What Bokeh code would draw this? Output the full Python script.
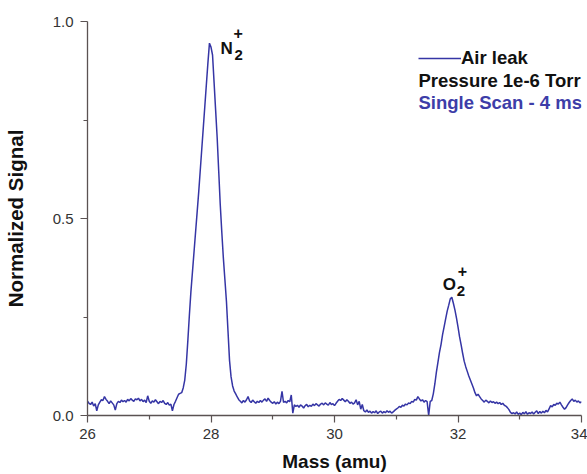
from bokeh.plotting import figure
from bokeh.models import Range1d, FixedTicker, Label, Legend, LegendItem
from bokeh.embed import file_html
from bokeh.resources import INLINE

mass = [
    26.000, 26.025, 26.050, 26.075, 26.100, 26.125, 26.150, 26.175,
    26.200, 26.225, 26.250, 26.275, 26.300, 26.325, 26.350, 26.375,
    26.400, 26.425, 26.450, 26.475, 26.500, 26.525, 26.550, 26.575,
    26.600, 26.625, 26.650, 26.675, 26.700, 26.725, 26.750, 26.775,
    26.800, 26.825, 26.850, 26.875, 26.900, 26.925, 26.950, 26.975,
    27.000, 27.025, 27.050, 27.075, 27.100, 27.125, 27.150, 27.175,
    27.200, 27.225, 27.250, 27.275, 27.300, 27.325, 27.350, 27.375,
    27.400, 27.425, 27.450, 27.475, 27.500, 27.525, 27.550, 27.575,
    27.600, 27.625, 27.650, 27.675, 27.700, 27.725, 27.750, 27.775,
    27.800, 27.825, 27.850, 27.875, 27.900, 27.925, 27.950, 27.975,
    28.000, 28.025, 28.050, 28.075, 28.100, 28.125, 28.150, 28.175,
    28.200, 28.225, 28.250, 28.275, 28.300, 28.325, 28.350, 28.375,
    28.400, 28.425, 28.450, 28.475, 28.500, 28.525, 28.550, 28.575,
    28.600, 28.625, 28.650, 28.675, 28.700, 28.725, 28.750, 28.775,
    28.800, 28.825, 28.850, 28.875, 28.900, 28.925, 28.950, 28.975,
    29.000, 29.025, 29.050, 29.075, 29.100, 29.125, 29.150, 29.175,
    29.200, 29.225, 29.250, 29.275, 29.300, 29.325, 29.350, 29.375,
    29.400, 29.425, 29.450, 29.475, 29.500, 29.525, 29.550, 29.575,
    29.600, 29.625, 29.650, 29.675, 29.700, 29.725, 29.750, 29.775,
    29.800, 29.825, 29.850, 29.875, 29.900, 29.925, 29.950, 29.975,
    30.000, 30.025, 30.050, 30.075, 30.100, 30.125, 30.150, 30.175,
    30.200, 30.225, 30.250, 30.275, 30.300, 30.325, 30.350, 30.375,
    30.400, 30.425, 30.450, 30.475, 30.500, 30.525, 30.550, 30.575,
    30.600, 30.625, 30.650, 30.675, 30.700, 30.725, 30.750, 30.775,
    30.800, 30.825, 30.850, 30.875, 30.900, 30.925, 30.950, 30.975,
    31.000, 31.025, 31.050, 31.075, 31.100, 31.125, 31.150, 31.175,
    31.200, 31.225, 31.250, 31.275, 31.300, 31.325, 31.350, 31.375,
    31.400, 31.425, 31.450, 31.475, 31.500, 31.525, 31.550, 31.575,
    31.600, 31.625, 31.650, 31.675, 31.700, 31.725, 31.750, 31.775,
    31.800, 31.825, 31.850, 31.875, 31.900, 31.925, 31.950, 31.975,
    32.000, 32.025, 32.050, 32.075, 32.100, 32.125, 32.150, 32.175,
    32.200, 32.225, 32.250, 32.275, 32.300, 32.325, 32.350, 32.375,
    32.400, 32.425, 32.450, 32.475, 32.500, 32.525, 32.550, 32.575,
    32.600, 32.625, 32.650, 32.675, 32.700, 32.725, 32.750, 32.775,
    32.800, 32.825, 32.850, 32.875, 32.900, 32.925, 32.950, 32.975,
    33.000, 33.025, 33.050, 33.075, 33.100, 33.125, 33.150, 33.175,
    33.200, 33.225, 33.250, 33.275, 33.300, 33.325, 33.350, 33.375,
    33.400, 33.425, 33.450, 33.475, 33.500, 33.525, 33.550, 33.575,
    33.600, 33.625, 33.650, 33.675, 33.700, 33.725, 33.750, 33.775,
    33.800, 33.825, 33.850, 33.875, 33.900, 33.925, 33.950, 33.975,
    34.000,
]

signal = [
    0.036, 0.031, 0.028, 0.034, 0.024, 0.030, 0.012, 0.027,
    0.034, 0.040, 0.038, 0.048, 0.041, 0.036, 0.030, 0.037,
    0.032, 0.027, 0.014, 0.030, 0.036, 0.033, 0.039, 0.035,
    0.038, 0.034, 0.041, 0.037, 0.043, 0.039, 0.036, 0.042,
    0.040, 0.044, 0.037, 0.041, 0.035, 0.039, 0.033, 0.050,
    0.036, 0.031, 0.037, 0.034, 0.040, 0.035, 0.030, 0.036,
    0.033, 0.038, 0.031, 0.028, 0.033, 0.026, 0.029, 0.012,
    0.028, 0.036, 0.045, 0.054, 0.056, 0.058, 0.070, 0.090,
    0.130, 0.190, 0.255, 0.315, 0.365, 0.415, 0.465, 0.515,
    0.565, 0.620, 0.675, 0.730, 0.785, 0.840, 0.895, 0.945,
    0.935, 0.915, 0.845, 0.775, 0.705, 0.620, 0.535, 0.465,
    0.400, 0.345, 0.290, 0.215, 0.140, 0.098, 0.075, 0.062,
    0.055, 0.047, 0.040, 0.036, 0.032, 0.038, 0.034, 0.040,
    0.048, 0.037, 0.033, 0.039, 0.035, 0.031, 0.036, 0.033,
    0.038, 0.034, 0.039, 0.042, 0.036, 0.044, 0.038, 0.034,
    0.031, 0.035, 0.029, 0.034, 0.030, 0.036, 0.061, 0.033,
    0.036, 0.032, 0.038, 0.035, 0.052, 0.006, 0.027, 0.023,
    0.026, 0.021, 0.027, 0.024, 0.019, 0.025, 0.028, 0.022,
    0.026, 0.023, 0.029, 0.025, 0.030, 0.027, 0.024, 0.029,
    0.031, 0.027, 0.032, 0.029, 0.026, 0.033, 0.028, 0.030,
    0.025, 0.031, 0.036, 0.041, 0.038, 0.043, 0.039, 0.035,
    0.040, 0.036, 0.031, 0.034, 0.029, 0.032, 0.040, 0.027,
    0.036, 0.016, 0.028, 0.012, 0.009, 0.014, 0.008, 0.011,
    0.006, 0.010, 0.007, 0.012, 0.005, 0.009, 0.011, 0.006,
    0.010, 0.007, 0.012, 0.008, 0.011, 0.006, 0.009, 0.013,
    0.016, 0.019, 0.023, 0.021, 0.026, 0.024, 0.029, 0.027,
    0.032, 0.030, 0.036, 0.034, 0.041, 0.039, 0.048, 0.042,
    0.037, 0.040, 0.034, 0.038, 0.035, 0.000, 0.036, 0.038,
    0.055, 0.080, 0.110, 0.135, 0.160, 0.180, 0.205, 0.225,
    0.245, 0.265, 0.280, 0.296, 0.300, 0.285, 0.268, 0.248,
    0.225, 0.200, 0.180, 0.158, 0.138, 0.124, 0.112, 0.100,
    0.090, 0.080, 0.070, 0.058, 0.050, 0.054, 0.048, 0.042,
    0.038, 0.034, 0.039, 0.036, 0.032, 0.037, 0.033, 0.035,
    0.031, 0.034, 0.030, 0.033, 0.028, 0.031, 0.026, 0.024,
    0.020, 0.015, 0.008, 0.005, 0.007, 0.004, 0.009, 0.003,
    0.006, 0.002, 0.008, 0.004, 0.010, 0.003, 0.007, 0.005,
    0.009, 0.004, 0.008, 0.012, 0.005, 0.010, 0.006, 0.011,
    0.007, 0.013, 0.009, 0.017, 0.025, 0.022, 0.028, 0.026,
    0.031, 0.029, 0.034, 0.027, 0.021, 0.016, 0.020, 0.027,
    0.033, 0.038, 0.042, 0.036, 0.039, 0.034, 0.037, 0.032,
    0.035,
]

x_ticks = [26, 28, 30, 32, 34]
x_minor_ticks = [27, 29, 31, 33]
y_ticks = [0.0, 0.5, 1.0]
y_minor_ticks = [0.25, 0.75]
y_tick_labels = ["0.0", "0.5", "1.0"]

series_label = "Air leak"
info_lines = ["Pressure 1e-6 Torr", "Single Scan - 4 ms"]
peak_names = ["N", "O"]

FONT = "Liberation Sans"
LINE_COLOR = "#3535a5"
AXIS_COLOR = "#5a5252"

p = figure(width=587, height=474, x_range=Range1d(26, 34), y_range=Range1d(0, 1),
           output_backend="svg", toolbar_location=None,
           min_border_left=86, min_border_right=6, min_border_top=21, min_border_bottom=59)
p.outline_line_color = None
p.grid.visible = False
p.background_fill_color = "white"

r = p.line(mass, signal, line_color=LINE_COLOR, line_width=1.5)

p.xaxis.ticker = FixedTicker(ticks=x_ticks, minor_ticks=x_minor_ticks)
p.yaxis.ticker = FixedTicker(ticks=y_ticks, minor_ticks=y_minor_ticks)
p.yaxis.major_label_overrides = {t: l for t, l in zip(y_ticks, y_tick_labels)}
p.xaxis.major_label_overrides = {t: str(t) for t in x_ticks}

for ax in (p.xaxis, p.yaxis):
    ax.axis_line_color = AXIS_COLOR
    ax.axis_line_width = 1.3
    ax.major_tick_line_color = AXIS_COLOR
    ax.minor_tick_line_color = AXIS_COLOR
    ax.major_tick_line_width = 1.2
    ax.minor_tick_line_width = 1.2
    ax.major_tick_in = 0
    ax.major_tick_out = 7
    ax.minor_tick_in = 0
    ax.minor_tick_out = 4
    ax.major_label_text_font = FONT
    ax.major_label_text_font_size = "15px"
    ax.major_label_text_color = "#333333"
    ax.axis_label_text_font = FONT
    ax.axis_label_text_font_style = "bold"
    ax.axis_label_text_color = "#111111"

p.xaxis.axis_label = "Mass (amu)"
p.yaxis.axis_label = "Normalized Signal"
p.xaxis.axis_label_text_font_size = "19px"
p.yaxis.axis_label_text_font_size = "20.5px"
p.xaxis.major_label_standoff = 6
p.xaxis.axis_label_standoff = 9
p.yaxis.major_label_standoff = 7
p.yaxis.axis_label_standoff = 23

legend = Legend(items=[LegendItem(label=series_label, renderers=[r])],
                location=(331, 346), glyph_width=43, glyph_height=16, label_height=16,
                label_standoff=0, padding=0, margin=0, spacing=0,
                border_line_alpha=0, background_fill_alpha=0,
                label_text_font=FONT, label_text_font_style="bold",
                label_text_font_size="18.5px", label_text_color="#111111")
p.add_layout(legend)

p.add_layout(Label(x=331, y=335, x_units="screen", y_units="screen", text=info_lines[0],
                   text_font=FONT, text_font_style="bold", text_font_size="18.5px",
                   text_color="#111111", text_baseline="middle"))
p.add_layout(Label(x=331, y=313, x_units="screen", y_units="screen", text=info_lines[1],
                   text_font=FONT, text_font_style="bold", text_font_size="18.5px",
                   text_color="#3d3da8", text_baseline="middle"))

# peak apexes from the data
i_n2 = max(range(len(mass)), key=lambda i: signal[i])
o_idx = [i for i in range(len(mass)) if mass[i] > 31]
i_o2 = max(o_idx, key=lambda i: signal[i])

def peak_label(i, name, dx_main, dy_main, dx_sub, dy_sub, dx_sup, dy_sup):
    common = dict(x=mass[i], y=signal[i], text_font=FONT, text_font_style="bold",
                  text_color="#111111", text_baseline="alphabetic")
    p.add_layout(Label(text=name, x_offset=dx_main, y_offset=dy_main,
                       text_font_size="17px", **common))
    p.add_layout(Label(text="2", x_offset=dx_sub, y_offset=dy_sub,
                       text_font_size="15px", **common))
    p.add_layout(Label(text="+", x_offset=dx_sup, y_offset=dy_sup,
                       text_font_size="16px", **common))

peak_label(i_n2, peak_names[0], 11, -5, 25, -12, 24, 10)
peak_label(i_o2, peak_names[1], -9, 13, 5, 6, 6, 26)

open("out.html", "w").write(file_html(p, INLINE))
